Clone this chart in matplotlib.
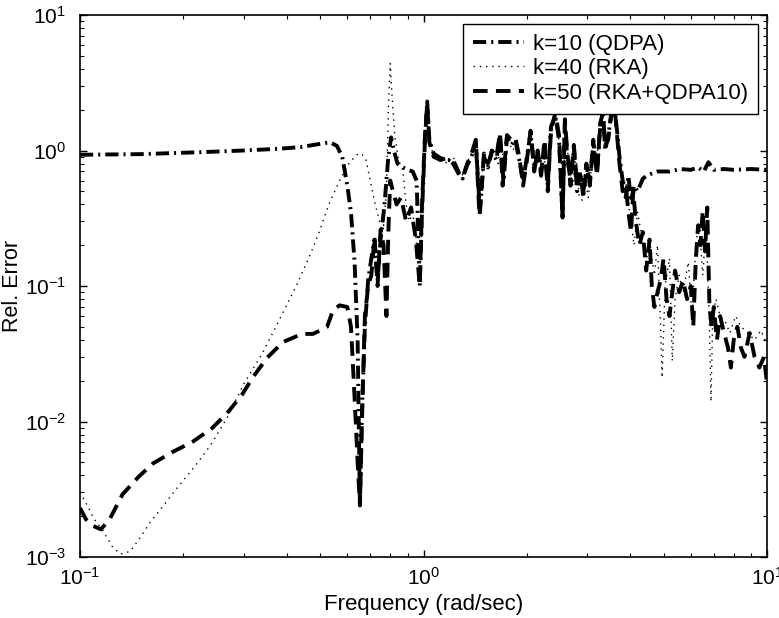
import matplotlib
matplotlib.use("Agg")
import matplotlib.pyplot as plt
from matplotlib.ticker import LogLocator

# k=10 (QDPA)
freq_qdpa = [0.1, 0.15, 0.22, 0.3, 0.38, 0.44, 0.5, 0.535, 0.56, 0.58,
             0.60, 0.615, 0.63, 0.643, 0.653, 0.662, 0.675, 0.69, 0.705, 0.72,
             0.735, 0.75, 0.77, 0.79, 0.805, 0.82, 0.84, 0.87, 0.90, 0.93,
             0.955, 0.975, 0.99, 1.01, 1.025, 1.04, 1.07, 1.12, 1.17, 1.22,
             1.27, 1.30, 1.34, 1.38, 1.42, 1.46, 1.50, 1.54, 1.58, 1.63,
             1.67, 1.71, 1.75, 1.80, 1.85, 1.90, 1.95, 2.00, 2.05, 2.10,
             2.15, 2.20, 2.25, 2.30, 2.35, 2.42, 2.48, 2.54, 2.58, 2.62,
             2.68, 2.74, 2.80, 2.86, 2.92, 2.98, 3.05, 3.12, 3.20, 3.27,
             3.33, 3.38, 3.45, 3.52, 3.60, 3.66, 3.72, 3.80, 3.88, 3.95,
             4.02, 4.10, 4.20, 4.35, 4.5, 4.8, 5.2, 5.6, 6.0, 6.3,
             6.55, 6.75, 7.0, 7.5, 8.0, 9.0, 10.0]
err_qdpa = [0.93, 0.94, 0.97, 1.0, 1.03, 1.06, 1.12, 1.15, 1.08, 0.9,
            0.55, 0.35, 0.15, 0.04, 0.0024, 0.012, 0.05, 0.11, 0.16, 0.22,
            0.11, 0.22, 0.4, 0.9, 1.25, 1.0, 0.8, 0.75, 0.72, 0.7,
            0.6, 0.1, 0.35, 1.2, 2.3, 1.2, 0.95, 0.88, 0.85, 0.85,
            0.68, 0.62, 0.78, 0.9, 1.15, 0.35, 0.9, 0.75, 1.0, 0.85,
            1.3, 0.6, 1.25, 1.1, 1.2, 0.85, 0.6, 0.9, 1.35, 0.75,
            0.95, 0.7, 1.1, 0.55, 1.5, 1.8, 1.2, 0.32, 1.6, 0.9,
            0.6, 1.05, 0.5, 0.7, 0.45, 0.75, 0.6, 1.1, 0.7, 1.5,
            2.0, 1.0, 1.3, 1.8, 2.0, 1.4, 0.9, 0.6, 0.45, 0.65,
            0.42, 0.55, 0.5, 0.62, 0.66, 0.7, 0.7, 0.73, 0.72, 0.75,
            0.7, 0.82, 0.72, 0.73, 0.72, 0.73, 0.72]

# k=40 (RKA)
freq_rka = [0.1, 0.105, 0.11, 0.116, 0.124, 0.131, 0.14, 0.15, 0.16, 0.175,
            0.193, 0.215, 0.24, 0.27, 0.30, 0.34, 0.38, 0.43, 0.47, 0.50,
            0.53, 0.57, 0.61, 0.64, 0.66, 0.68, 0.70, 0.72, 0.745, 0.765,
            0.78, 0.79, 0.80, 0.81, 0.825, 0.845, 0.87, 0.89, 0.91, 0.93,
            0.955, 0.975, 0.99, 1.01, 1.025, 1.04, 1.07, 1.12, 1.17, 1.22,
            1.27, 1.31, 1.35, 1.40, 1.43, 1.46, 1.50, 1.55, 1.60, 1.65,
            1.68, 1.72, 1.76, 1.82, 1.87, 1.92, 1.97, 2.02, 2.06, 2.12,
            2.18, 2.24, 2.28, 2.33, 2.38, 2.44, 2.50, 2.55, 2.60, 2.65,
            2.72, 2.78, 2.84, 2.90, 2.96, 3.02, 3.1, 3.18, 3.25, 3.31,
            3.37, 3.44, 3.5, 3.58, 3.65, 3.72, 3.8, 3.88, 3.95, 4.02,
            4.1, 4.2, 4.3, 4.45, 4.55, 4.7, 4.8, 4.9, 4.95, 5.05,
            5.2, 5.3, 5.4, 5.55, 5.7, 5.9, 6.05, 6.2, 6.35, 6.5,
            6.65, 6.8, 6.87, 6.95, 7.1, 7.3, 7.55, 7.8, 8.1, 8.4,
            8.8, 9.2, 9.6, 10.0]
err_rka = [0.003, 0.0024, 0.0019, 0.0016, 0.0012, 0.00105, 0.0011, 0.0014, 0.0018, 0.0024,
           0.0033, 0.0046, 0.0067, 0.011, 0.019, 0.032, 0.056, 0.105, 0.175, 0.26,
           0.4, 0.6, 0.82, 0.93, 0.95, 0.85, 0.6, 0.42, 0.3, 0.28,
           0.5, 2.0, 4.4, 2.5, 1.3, 0.85, 0.72, 0.4, 0.3, 0.35,
           0.2, 0.11, 0.3, 1.0, 2.0, 1.1, 0.95, 0.9, 0.8, 0.9,
           0.7, 0.65, 0.85, 1.0, 1.2, 0.5, 0.85, 0.8, 1.05, 0.8,
           1.25, 0.7, 1.2, 1.0, 1.15, 0.8, 0.65, 1.0, 1.3, 0.8,
           0.9, 0.75, 1.0, 0.7, 1.6, 1.7, 1.0, 0.6, 1.3, 0.8,
           0.55, 0.9, 0.45, 0.43, 0.6, 0.45, 0.9, 0.8, 1.3, 1.8,
           1.2, 1.1, 1.6, 1.9, 1.5, 1.0, 0.55, 0.6, 0.4, 0.3,
           0.2, 0.35, 0.25, 0.15, 0.22, 0.12, 0.2, 0.05, 0.021, 0.1,
           0.16, 0.028, 0.08, 0.12, 0.09, 0.15, 0.06, 0.2, 0.3, 0.12,
           0.28, 0.05, 0.014, 0.06, 0.08, 0.06, 0.055, 0.045, 0.06, 0.05,
           0.045, 0.04, 0.047, 0.037]

# k=50 (RKA+QDPA10)
freq_mix = [0.1, 0.104, 0.109, 0.115, 0.122, 0.133, 0.148, 0.163, 0.187, 0.213,
            0.242, 0.268, 0.296, 0.319, 0.35, 0.39, 0.443, 0.477, 0.524, 0.545,
            0.57, 0.60, 0.615, 0.63, 0.643, 0.653, 0.662, 0.675, 0.69, 0.705,
            0.72, 0.735, 0.75, 0.765, 0.78, 0.79, 0.80, 0.815, 0.835, 0.86,
            0.89, 0.92, 0.95, 0.975, 0.99, 1.01, 1.025, 1.04, 1.07, 1.12,
            1.17, 1.22, 1.27, 1.30, 1.34, 1.38, 1.42, 1.455, 1.50, 1.54,
            1.58, 1.63, 1.67, 1.70, 1.75, 1.80, 1.85, 1.90, 1.95, 2.00,
            2.05, 2.10, 2.15, 2.20, 2.25, 2.30, 2.35, 2.42, 2.48, 2.54,
            2.58, 2.62, 2.68, 2.74, 2.80, 2.86, 2.92, 2.98, 3.05, 3.12,
            3.2, 3.27, 3.33, 3.38, 3.45, 3.52, 3.60, 3.66, 3.72, 3.8,
            3.88, 3.95, 4.02, 4.08, 4.15, 4.25, 4.35, 4.45, 4.55, 4.62,
            4.7, 4.8, 4.9, 5.0, 5.1, 5.2, 5.3, 5.4, 5.55, 5.7,
            5.85, 6.0, 6.1, 6.2, 6.3, 6.4, 6.5, 6.6, 6.7, 6.8,
            6.9, 7.0, 7.15, 7.3, 7.5, 7.7, 7.85, 8.0, 8.2, 8.4,
            8.6, 8.9, 9.2, 9.5, 9.8, 10.0]
err_mix = [0.0023, 0.0019, 0.0017, 0.0016, 0.0019, 0.0029, 0.0039, 0.0049, 0.006, 0.0071,
           0.0089, 0.0115, 0.0157, 0.0213, 0.0294, 0.0386, 0.0443, 0.0443, 0.05, 0.066,
           0.072, 0.07, 0.05, 0.015, 0.005, 0.0024, 0.01, 0.06, 0.1, 0.12,
           0.23, 0.1, 0.26, 0.2, 0.06, 0.25, 0.6, 0.5, 0.4, 0.45,
           0.3, 0.38, 0.22, 0.1, 0.4, 1.3, 2.2, 1.15, 0.9, 0.85,
           0.88, 0.8, 0.66, 0.63, 0.8, 0.95, 1.2, 0.33, 0.95, 0.8,
           0.95, 0.9, 1.35, 0.55, 1.3, 1.2, 1.25, 0.9, 0.55, 0.85,
           1.4, 0.7, 1.0, 0.65, 1.2, 0.5, 1.4, 1.9, 1.3, 0.32,
           1.7, 1.0, 0.55, 1.1, 0.55, 0.65, 0.5, 0.8, 0.55, 1.2,
           0.65, 1.6, 1.9, 1.1, 1.2, 1.9, 2.1, 1.3, 0.8, 0.5,
           0.55, 0.35, 0.25, 0.5, 0.3, 0.2, 0.25, 0.13, 0.22, 0.1,
           0.07, 0.09, 0.11, 0.16, 0.08, 0.06, 0.09, 0.13, 0.09, 0.11,
           0.08, 0.1, 0.05, 0.15, 0.28, 0.2, 0.36, 0.18, 0.38, 0.07,
           0.05, 0.07, 0.04, 0.06, 0.045, 0.035, 0.025, 0.04, 0.05, 0.035,
           0.03, 0.045, 0.03, 0.025, 0.03, 0.019]

plt.rcParams['font.family'] = 'Liberation Sans'
plt.rcParams['mathtext.fontset'] = 'custom'
plt.rcParams['mathtext.rm'] = 'Liberation Sans'
plt.rcParams['mathtext.it'] = 'Liberation Sans:italic'
plt.rcParams['lines.scale_dashes'] = False

fig = plt.figure(figsize=(7.79, 6.18), dpi=100)
ax = fig.add_axes([80 / 779, 1 - 557 / 618, 687 / 779, 542 / 618])

ax.plot(freq_qdpa, err_qdpa, color='black', lw=2.8, ls=(0, (9.5, 3.6, 1.5, 3.6)),
        label='k=10 (QDPA)')
ax.plot(freq_rka, err_rka, color='black', lw=1.0, ls=(0, (1, 3.5)),
        label='k=40 (RKA)')
ax.plot(freq_mix, err_mix, color='black', lw=2.8, ls=(0, (10.5, 6)),
        label='k=50 (RKA+QDPA10)')

ax.set_xscale('log')
ax.set_yscale('log')
ax.set_xlim(0.1, 10)
ax.set_ylim(1e-3, 10)
ax.xaxis.set_minor_locator(LogLocator(subs=range(2, 10)))
ax.yaxis.set_minor_locator(LogLocator(subs=range(2, 10)))
ax.tick_params(which='both', direction='in', top=True, right=True)
ax.tick_params(which='major', length=5, width=1, labelsize=15)
ax.tick_params(which='minor', length=3, width=0.8)
ax.tick_params(axis='x', which='major', pad=7)
ax.tick_params(axis='y', which='major', pad=10)
for s in ax.spines.values():
    s.set_linewidth(1.2)

ax.set_xlabel('Frequency (rad/sec)', fontsize=16)
ax.set_ylabel('Rel. Error', fontsize=15.5)
ax.xaxis.set_label_coords(0.5, -0.068)
ax.yaxis.set_label_coords(-0.083, 0.5)

leg = ax.legend(loc='upper right', fontsize=16, fancybox=False, edgecolor='black',
                framealpha=1, handlelength=2.3, handletextpad=0.4,
                labelspacing=0.15, borderpad=0.45, borderaxespad=0.4)
leg.get_frame().set_linewidth(1.0)

fig.savefig('out.png', dpi=100)
